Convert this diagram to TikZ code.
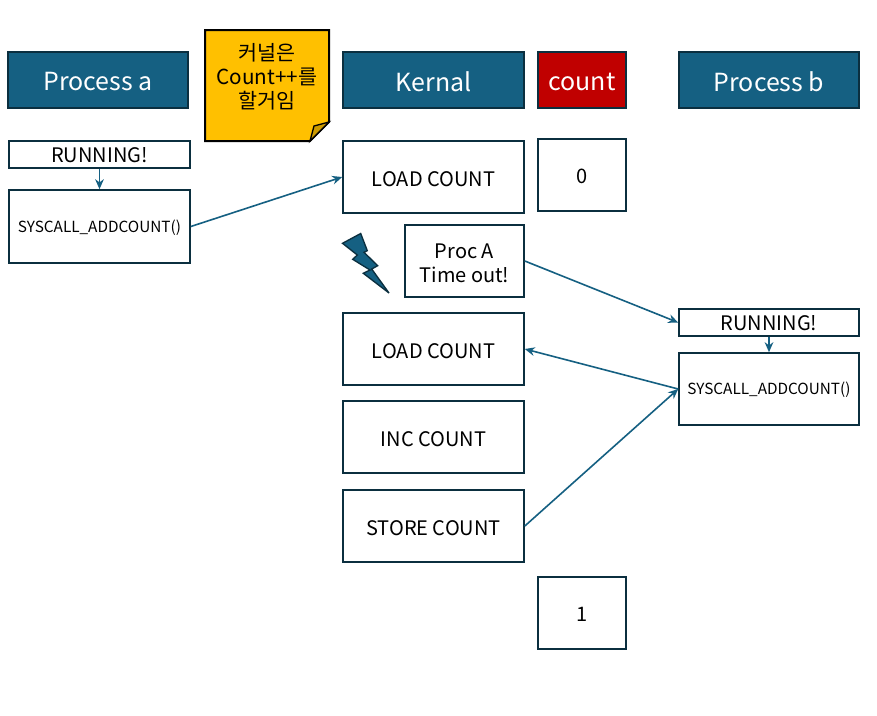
\documentclass[tikz,border=0pt]{standalone}
\usepackage{fontspec}
\setmainfont{Noto Sans CJK KR}
\usetikzlibrary{arrows.meta}
\definecolor{hdr}{HTML}{156082}
\definecolor{edge}{HTML}{0B2F3F}
\definecolor{notey}{HTML}{FFC000}
\definecolor{foldy}{HTML}{CC9A00}
\definecolor{cnt}{HTML}{C00000}
\tikzset{
  header/.style={draw=edge,line width=1pt,fill=hdr,text=white,font=\fontsize{18.7}{22}\selectfont,inner sep=0pt},
  wbox/.style={draw=edge,line width=1.2pt,fill=white,text=black,font=\fontsize{15}{18}\selectfont,inner sep=0pt,align=center},
  sbox/.style={wbox,font=\fontsize{11.5}{15}\selectfont},
  link/.style={draw=hdr,line width=1.2pt,-{Stealth[length=7.5pt,width=6.5pt]}},
}
\newcommand{\dn}[2][1.3pt]{\raisebox{-#1}[\height][\depth]{#2}}
\newcommand{\bx}[7]{\node[#1,minimum width=#4*0.75pt-#2*0.75pt,minimum height=#5*0.75pt-#3*0.75pt] (#6) at ({(#2+#4)/2},{(#3+#5)/2}) {#7};}
\begin{document}
\begin{tikzpicture}[x=0.75pt,y=-0.75pt]
\useasboundingbox (0,0) rectangle (877,715);
\fill[white] (0,0) rectangle (877,715);
\bx{header}{8}{52}{188}{108}{pa}{\dn{Process a}}
\bx{header}{343}{52}{524}{108}{kn}{\dn{Kernal}}
\bx{header,fill=cnt}{538}{52}{626}{108}{ct}{\dn{count}}
\bx{header}{679}{52}{859}{108}{pb}{\dn{Process b}}
% note
\draw[black,line width=1.5pt,fill=notey,line join=miter] (205,30) -- (329,30) -- (329,122) -- (310,141) -- (205,141) -- cycle;
\draw[black,line width=1pt,fill=foldy] (310,141) -- (314,126) -- (329,122) -- cycle;
\node[text=black,font=\fontsize{15.5}{18}\selectfont,align=center,inner sep=0pt] (nt) at (267,77) {커널은\\Count++를\\할거임};
\bx{wbox}{9}{141}{190}{168}{ra}{\dn[0.4pt]{RUNNING!}}
\bx{sbox}{9}{190}{190}{263}{sa}{\dn[0.6pt]{SYSCALL\_ADDCOUNT()}}
\bx{wbox}{343}{141}{524}{213}{l1}{\dn{LOAD COUNT}}
\bx{wbox}{538}{139}{626}{211}{z}{\dn{0}}
\bx{wbox}{405}{225}{524}{297}{to}{\rule{0pt}{14pt}Proc A\\Time out!}
\bx{wbox}{343}{313}{524}{385}{l2}{\dn{LOAD COUNT}}
\bx{wbox}{343}{401}{524}{473}{ic}{\dn{INC COUNT}}
\bx{wbox}{343}{490}{524}{562}{st}{\dn{STORE COUNT}}
\bx{wbox}{538}{577}{626}{649}{on}{\dn{1}}
\bx{wbox}{679}{309}{859}{336}{rb}{\dn[0.4pt]{RUNNING!}}
\bx{sbox}{679}{353}{859}{425}{sb}{\dn[0.6pt]{SYSCALL\_ADDCOUNT()}}
% lightning
\draw[edge,line width=1pt,fill=hdr,line join=miter,miter limit=3] (342.5,243.3) -- (360.7,233.5) -- (367.3,250.7) -- (364,252.3) -- (377.7,265.7) -- (371.7,269) -- (389,293) -- (363.3,273.3) -- (370,270) -- (352.7,259.3) -- (357.3,255) -- cycle;
% connectors
\draw[link] (ra) -- (sa);
\draw[link] (rb) -- (sb);
\draw[link] (sa.east) -- (l1.west);
\draw[link] (to.east) -- (rb.west);
\draw[link] (sb.west) -- (l2.east);
\draw[link] (st.east) -- (sb.west);
\end{tikzpicture}
\end{document}
